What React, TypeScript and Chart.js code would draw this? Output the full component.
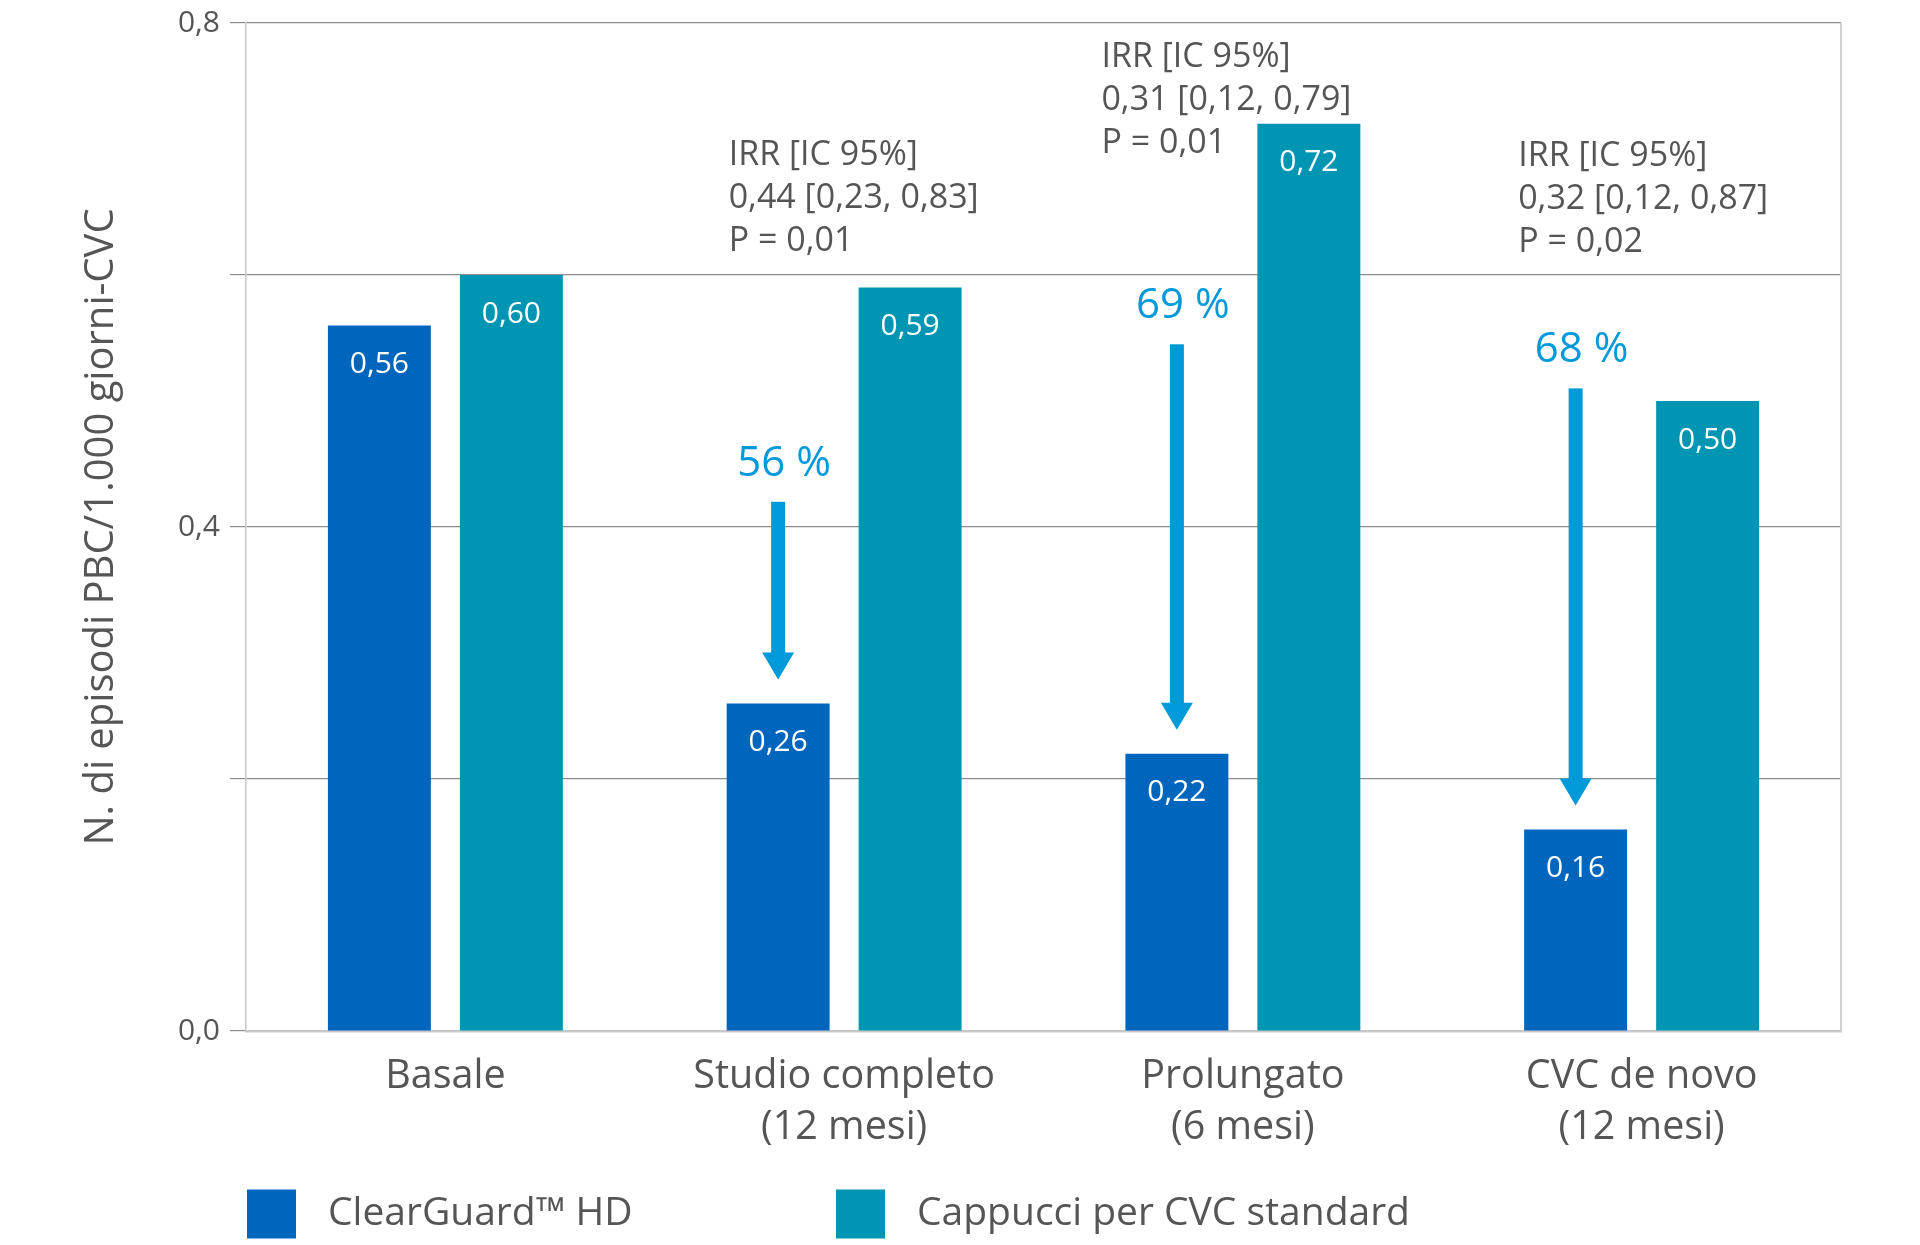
import React, { useEffect, useRef } from "react";
import { Chart, registerables } from "chart.js";

Chart.register(...registerables);

// ---------- data ----------
const categories: string[][] = [
  ["Basale"],
  ["Studio completo", "(12 mesi)"],
  ["Prolungato", "(6 mesi)"],
  ["CVC de novo", "(12 mesi)"],
];
const seriesNames = ["ClearGuard™ HD", "Cappucci per CVC standard"];
const clearGuardValues = [0.56, 0.26, 0.22, 0.16];
const standardValues = [0.6, 0.59, 0.72, 0.5];
const yTickLabels = ["0,0", "", "0,4", "", "0,8"];
const yAxisTitle = "N. di episodi PBC/1.000 giorni-CVC";
const reductionLabels = ["", "56 %", "69 %", "68 %"];
const arrowStartValues: (number | null)[] = [null, 0.42, 0.545, 0.51];
const irrTexts: (string[] | null)[] = [
  null,
  ["IRR [IC 95%]", "0,44 [0,23, 0,83]", "P = 0,01"],
  ["IRR [IC 95%]", "0,31 [0,12, 0,79]", "P = 0,01"],
  ["IRR [IC 95%]", "0,32 [0,12, 0,87]", "P = 0,02"],
];
const irrTextTopValues: (number | null)[] = [null, 0.695, 0.773, 0.694];

// ---------- style ----------
const FONT = "'Open Sans', sans-serif";
const BLUE = "#0066bd";
const TEAL = "#0095b3";
const ARROW = "#0099da";
const TEXT = "#555555";
const GRID = "#8c8c8c";
const AXIS = "#c8c8c8";
const irrXOffsets = [0, 2, -24, -6]; // px relative to left edge of first bar

const fmt = (v: number) => v.toFixed(2).replace(".", ",");

const overlayPlugin = {
  id: "overlay",
  afterDatasetsDraw(chart: any) {
    const ctx = chart.ctx as CanvasRenderingContext2D;
    const yScale = chart.scales.y;
    const metaA = chart.getDatasetMeta(0);
    const metaB = chart.getDatasetMeta(1);
    ctx.save();
    // value labels inside bars
    [metaA, metaB].forEach((meta: any, di: number) => {
      meta.data.forEach((bar: any, i: number) => {
        const v = chart.data.datasets[di].data[i] as number;
        ctx.fillStyle = "#ffffff";
        ctx.font = `30px ${FONT}`;
        ctx.textAlign = "center";
        ctx.textBaseline = "middle";
        ctx.fillText(fmt(v), bar.x, bar.y + 39);
      });
    });
    // arrows + reduction labels
    arrowStartValues.forEach((start, i) => {
      if (start == null) return;
      const bar = metaA.data[i];
      const x = bar.x;
      const top = yScale.getPixelForValue(start);
      const tip = bar.y - 24;
      const headTop = tip - 27;
      ctx.fillStyle = ARROW;
      ctx.fillRect(x - 7, top, 14, headTop - top + 1);
      ctx.beginPath();
      ctx.moveTo(x - 16, headTop);
      ctx.lineTo(x + 16, headTop);
      ctx.lineTo(x, tip);
      ctx.closePath();
      ctx.fill();
      ctx.font = `42px ${FONT}`;
      ctx.textAlign = "center";
      ctx.textBaseline = "middle";
      ctx.fillText(reductionLabels[i], x + 6, top - 38);
    });
    // IRR texts
    irrTexts.forEach((lines, i) => {
      const topVal = irrTextTopValues[i];
      if (!lines || topVal == null) return;
      const bar = metaA.data[i];
      const x0 = bar.x - bar.width / 2 + irrXOffsets[i];
      const y0 = yScale.getPixelForValue(topVal);
      ctx.fillStyle = TEXT;
      ctx.font = `34px ${FONT}`;
      ctx.textAlign = "left";
      ctx.textBaseline = "middle";
      lines.forEach((line, k) => ctx.fillText(line, x0, y0 + k * 43));
    });
    ctx.restore();
  },
  afterDraw(chart: any) {
    const ctx = chart.ctx as CanvasRenderingContext2D;
    const area = chart.chartArea;
    ctx.save();
    // right border
    ctx.strokeStyle = "#d0d0d0";
    ctx.lineWidth = 2;
    ctx.beginPath();
    ctx.moveTo(area.right, area.top);
    ctx.lineTo(area.right, area.bottom);
    ctx.stroke();
    // legend
    const itemX = [0, 589];
    const boxSize = 49;
    const legendY = 1214;
    chart.data.datasets.forEach((ds: any, i: number) => {
      const bx = area.left + 1 + itemX[i];
      ctx.fillStyle = ds.backgroundColor;
      ctx.fillRect(bx, legendY - boxSize / 2, boxSize, boxSize);
      ctx.fillStyle = TEXT;
      ctx.font = `39px ${FONT}`;
      ctx.textAlign = "left";
      ctx.textBaseline = "middle";
      ctx.fillText(ds.label, bx + boxSize + 32, legendY);
    });
    ctx.restore();
  },
};

export default function App() {
  const canvasRef = useRef<HTMLCanvasElement | null>(null);

  useEffect(() => {
    if (!canvasRef.current) return;
    const chart = new Chart(canvasRef.current, {
      type: "bar",
      data: {
        labels: categories,
        datasets: [
          {
            label: seriesNames[0],
            data: clearGuardValues,
            backgroundColor: BLUE,
            categoryPercentage: 0.662,
            barPercentage: 0.78,
          },
          {
            label: seriesNames[1],
            data: standardValues,
            backgroundColor: TEAL,
            categoryPercentage: 0.662,
            barPercentage: 0.78,
          },
        ],
      },
      options: {
        animation: false,
        responsive: true,
        maintainAspectRatio: false,
        layout: { padding: { top: 23, right: 79, bottom: 0, left: 0 } },
        plugins: {
          legend: { display: false },
          tooltip: { enabled: false },
        },
        scales: {
          x: {
            grid: { display: false },
            border: { color: AXIS, width: 2.5 },
            ticks: {
              color: TEXT,
              padding: 12,
              font: { family: FONT, size: 39.5, lineHeight: 1.3 },
            },
            afterFit(scale: any) {
              scale.height = 214;
              scale.paddingLeft = 0;
              scale.paddingRight = 0;
            },
          },
          y: {
            min: 0,
            max: 0.8,
            grid: { color: GRID, lineWidth: 1.2, tickLength: 16 },
            border: { color: AXIS, width: 1.5 },
            ticks: {
              stepSize: 0.2,
              color: TEXT,
              padding: 10,
              font: { family: FONT, size: 30 },
              callback: (_v: any, index: number) => yTickLabels[index],
            },
            title: {
              display: true,
              text: yAxisTitle,
              color: TEXT,
              font: { family: FONT, size: 40 },
              padding: { top: 78, bottom: 0 },
            },
            afterFit(scale: any) {
              scale.width = 246;
              scale.paddingTop = 0;
              scale.paddingBottom = 0;
            },
          },
        },
      },
      plugins: [overlayPlugin],
    });
    return () => chart.destroy();
  }, []);

  return (
    <div
      style={{
        position: "fixed",
        left: 0,
        top: 0,
        width: 1920,
        height: 1245,
        background: "#ffffff",
      }}
    >
      <canvas ref={canvasRef} />
    </div>
  );
}
